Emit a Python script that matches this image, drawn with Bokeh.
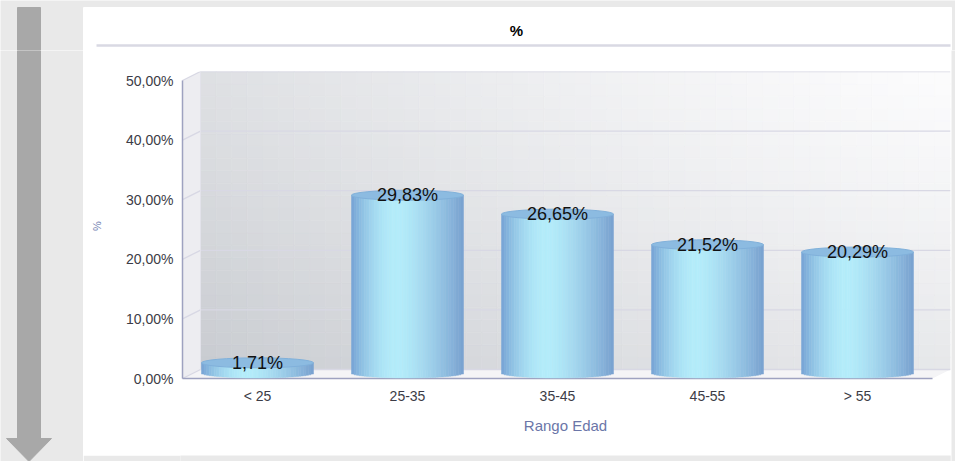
import numpy as np
from bokeh.plotting import figure
from bokeh.layouts import row, column
from bokeh.models import Range1d, FixedTicker
from bokeh.embed import file_html
from bokeh.resources import INLINE
from bokeh.core.properties import value

# ---------------- data ----------------
categories = ["< 25", "25-35", "35-45", "45-55", "> 55"]
percentages = [1.71, 29.83, 26.65, 21.52, 20.29]
value_labels = ["1,71%", "29,83%", "26,65%", "21,52%", "20,29%"]
y_ticks = [0, 10, 20, 30, 40, 50]
y_tick_labels = ["0,00%", "10,00%", "20,00%", "30,00%", "40,00%", "50,00%"]
title_text = "%"
x_title = "Rango Edad"
y_title = "%"

# ---------------- style / layout ----------------
FONT = "Liberation Sans"
PAGE_BG = "#e9e9e9"
ARROW = "#a8a8a8"
PAGE_W, PAGE_H = 955, 461
W_ARROW = 83
W_MAIN, H_MAIN = 868, 402
H_HEAD = 50
H_BOTTOM = PAGE_H - H_HEAD - H_MAIN
W_RIGHT = PAGE_W - W_ARROW - W_MAIN
FRAME_L, FRAME_R, FRAME_T, FRAME_B = 97, 1, 21, 72
frame_w = W_MAIN - FRAME_L - FRAME_R
frame_h = H_MAIN - FRAME_T - FRAME_B
KX = 150.0            # px per category
KY = 298.0 / 50.0     # px per percent unit
x_start = -2.0 / KX
x_end = x_start + frame_w / KX
y_start = -2.0 / KY
y_end = y_start + frame_h / KY
BACK_DX = 18.0 / KX
BACK_DY = 9.0 / KY
BASE_DY = 5.5 / KY
BAR_W = 112.0 / KX
ELL_H = 10.0 / KY
AXIS_MAX = y_ticks[-1]
N_CATS = len(categories)


def deco_fig(w, h, bg=PAGE_BG):
    f = figure(width=w, height=h, x_range=Range1d(0, w), y_range=Range1d(0, h),
               x_axis_type=None, y_axis_type=None, min_border=0,
               output_backend="svg", toolbar_location=None)
    f.outline_line_color = None
    f.grid.visible = False
    f.background_fill_color = bg
    f.border_fill_color = bg
    return f


# ---------------- header strip (title + separator) ----------------
hf = deco_fig(PAGE_W, H_HEAD)
hf.quad(left=[83], right=[951], bottom=[0], top=[H_HEAD - 7], color="white")
hf.quad(left=[17], right=[40], bottom=[0], top=[H_HEAD - 7], color=ARROW)
hf.text(x=[516], y=[H_HEAD - 30], text=[title_text], text_font=value(FONT), text_font_size="15px",
        text_font_style="bold", text_align="center", text_baseline="middle", text_color="#000000")
hf.segment(x0=[96], y0=[H_HEAD - 45], x1=[950], y1=[H_HEAD - 45], line_color="#d9d9e3", line_width=2.5)

# ---------------- left arrow ----------------
HA = PAGE_H - H_HEAD
af = deco_fig(W_ARROW, HA)
af.quad(left=[17], right=[40], bottom=[PAGE_H - 439], top=[HA], color=ARROW)
af.patch(x=[6, 51, 28.5], y=[PAGE_H - 438, PAGE_H - 438, PAGE_H - 461], color=ARROW)

bs = deco_fig(W_MAIN, H_BOTTOM)
rs = deco_fig(W_RIGHT, HA)

# ---------------- main chart ----------------
p = figure(width=W_MAIN, height=H_MAIN, x_range=Range1d(x_start, x_end),
           y_range=Range1d(y_start, y_end),
           min_border_left=FRAME_L, min_border_right=FRAME_R,
           min_border_top=FRAME_T, min_border_bottom=FRAME_B,
           output_backend="svg", toolbar_location=None)
p.outline_line_color = None
p.grid.visible = False
p.background_fill_color = "white"
p.border_fill_color = "white"

# back wall gradient
nx, ny = 48, 24
xe = np.linspace(BACK_DX, x_end, nx + 1)
ye = np.linspace(BACK_DY, AXIS_MAX + BACK_DY, ny + 1)
L, R, B, T, C = [], [], [], [], []
white = np.array([252, 252, 253])
gray = np.array([201, 204, 209])
for i in range(nx):
    xf = (i + 0.5) / nx
    for j in range(ny):
        yf = 1 - (j + 0.5) / ny
        t = 0.58 * (1 - xf) ** 1.3 + 0.42 * yf ** 1.2
        t = min(max(t, 0), 1)
        c = (white * (1 - t) + gray * t).astype(int)
        L.append(xe[i]); R.append(xe[i + 1]); B.append(ye[j]); T.append(ye[j + 1])
        C.append("#%02x%02x%02x" % tuple(c))
p.quad(left=L, right=R, bottom=B, top=T, fill_color=C, line_color=C, line_width=0.6)

# left wall and floor
p.patch(x=[0, BACK_DX, BACK_DX, 0], y=[0, BACK_DY, AXIS_MAX + BACK_DY, AXIS_MAX],
        fill_color="#ededf1", line_color=None)
p.patch(x=[0, N_CATS, N_CATS + BACK_DX, BACK_DX], y=[0, 0, BACK_DY, BACK_DY],
        fill_color="#f4f4f6", line_color=None)

# grid lines (back wall + left wall diagonals)
gy = np.array(y_ticks, dtype=float)
p.segment(x0=[BACK_DX] * len(gy), y0=gy + BACK_DY, x1=[x_end] * len(gy), y1=gy + BACK_DY,
          line_color="#d8d8e4", line_width=1.3)
p.segment(x0=[0] * len(gy), y0=gy, x1=[BACK_DX] * len(gy), y1=gy + BACK_DY,
          line_color="#d8d8e4", line_width=1.3)
p.segment(x0=[BACK_DX], y0=[BACK_DY], x1=[BACK_DX], y1=[AXIS_MAX + BACK_DY],
          line_color="#e2e2ea", line_width=1)

# axis lines
p.segment(x0=[0, 0], y0=[0, 0], x1=[0, N_CATS], y1=[AXIS_MAX, 0],
          line_color="#9ea2c0", line_width=1.5)

# cylinders
centers = [i + 0.5 for i in range(N_CATS)]
nstrip = 44
Lc = np.array([118, 163, 212]); Pc = np.array([180, 237, 251]); Rc = np.array([121, 161, 208])
up = 0.42
strip_cols = []
for k in range(nstrip):
    u = (k + 0.5) / nstrip
    if u < up:
        t = u / up
        c = Lc + (Pc - Lc) * (1 - (1 - t) ** 2)
    else:
        t = (u - up) / (1 - up)
        c = Pc + (Rc - Pc) * t ** 1.4
    strip_cols.append("#%02x%02x%02x" % tuple(c.astype(int)))

sL, sR, sB, sT, sC = [], [], [], [], []
for cx, v in zip(centers, percentages):
    edges = np.linspace(cx - BAR_W / 2, cx + BAR_W / 2, nstrip + 1)
    for k in range(nstrip):
        um = (k + 0.5) / nstrip
        dy = (ELL_H / 2) * np.sqrt(max(0.0, 1 - (2 * um - 1) ** 2))
        sL.append(edges[k]); sR.append(edges[k + 1])
        sB.append(BASE_DY - dy); sT.append(BASE_DY + v)
        sC.append(strip_cols[k])
p.quad(left=sL, right=sR, bottom=sB, top=sT, fill_color=sC, line_color=sC, line_width=0.5)

tops = [BASE_DY + v for v in percentages]
p.ellipse(x=centers, y=tops, width=BAR_W, height=ELL_H, fill_color="#8cbbe1",
          line_color="#80b0da", line_width=1)

p.text(x=centers, y=tops, text=value_labels, text_font=value(FONT), text_font_size="18px",
       text_align="center", text_baseline="alphabetic", text_color="#111111")

# axes
p.xaxis.ticker = FixedTicker(ticks=centers)
p.xaxis.major_label_overrides = {c: n for c, n in zip(centers, categories)}
p.yaxis.ticker = FixedTicker(ticks=y_ticks)
p.yaxis.major_label_overrides = {t: s for t, s in zip(y_ticks, y_tick_labels)}
for ax in (p.xaxis, p.yaxis):
    ax.axis_line_color = None
    ax.major_tick_line_color = None
    ax.minor_tick_line_color = None
    ax.major_tick_out = 0
    ax.major_tick_in = 0
    ax.minor_tick_out = 0
    ax.minor_tick_in = 0
    ax.major_label_text_font = FONT
    ax.major_label_text_font_size = "14px"
    ax.major_label_text_color = "#3c3c46"
    ax.axis_label_text_font = FONT
    ax.axis_label_text_font_style = "normal"
p.xaxis.major_label_standoff = 7
p.xaxis.axis_label = x_title
p.xaxis.axis_label_text_font_size = "15px"
p.xaxis.axis_label_text_color = "#6b76a8"
p.xaxis.axis_label_standoff = 10
p.yaxis.major_label_standoff = 7
p.yaxis.axis_label = y_title
p.yaxis.axis_label_text_font_size = "11px"
p.yaxis.axis_label_text_color = "#7080b0"
p.yaxis.axis_label_standoff = 20

layout = column(hf, row(af, column(p, bs), rs))

html = file_html(layout, INLINE)
open("out.html", "w").write(html)
